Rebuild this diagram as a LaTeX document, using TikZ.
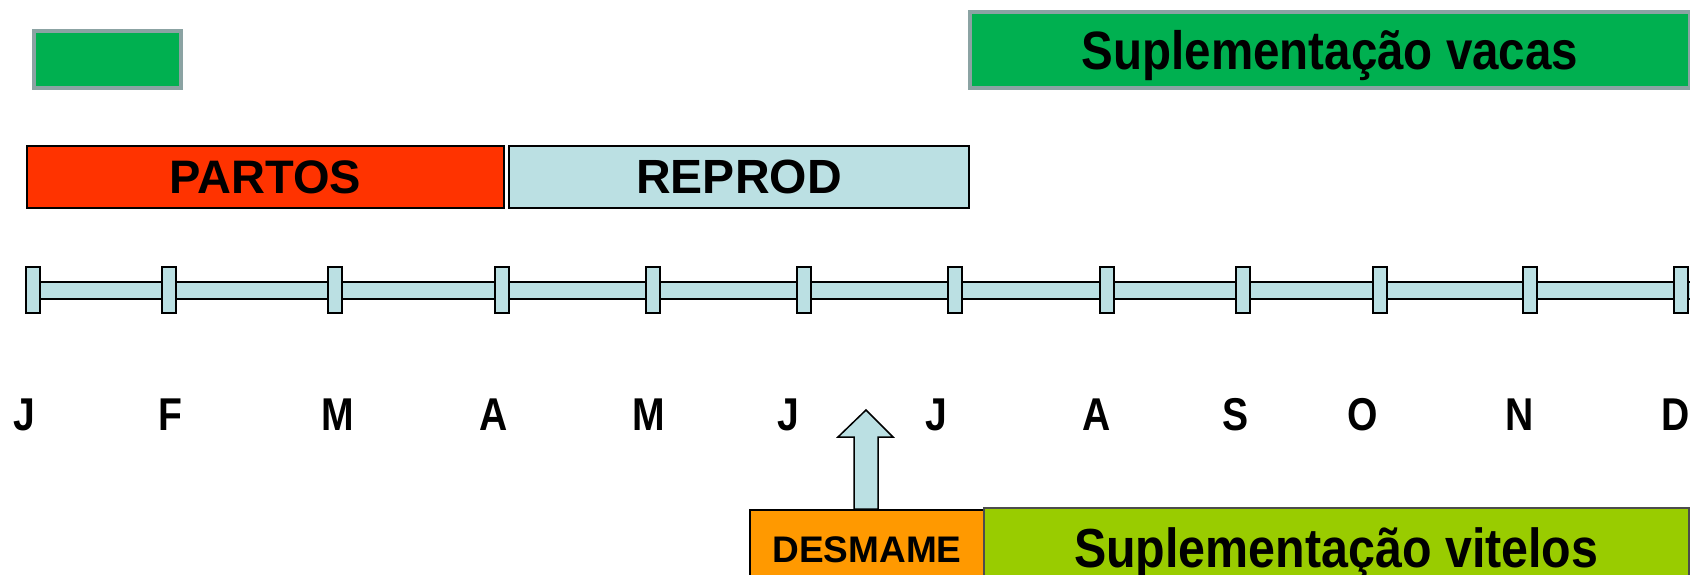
\documentclass[tikz,border=0pt]{standalone}
\usepackage{fontspec}
\setmainfont{Liberation Sans}
\newfontfamily\condfont[FakeStretch=0.88]{Liberation Sans}
\newfontfamily\monthfont[FakeStretch=0.85]{Liberation Sans}
\definecolor{vgreen}{HTML}{00B050}
\definecolor{vgray}{HTML}{8BA3A3}
\definecolor{pred}{HTML}{FF3300}
\definecolor{lblue}{HTML}{BBE0E3}
\definecolor{dorange}{HTML}{FF9900}
\definecolor{ygreen}{HTML}{99CC00}
\tikzset{
  box/.style={rectangle, inner sep=0pt, anchor=north west, text=black, font=\bfseries},
  greenbox/.style={box, fill=vgreen, draw=vgray, line width=4pt},
  blackbox/.style={box, draw=black, line width=2pt},
  tickbox/.style={rectangle, inner sep=0pt, fill=lblue, draw=black, line width=1.5pt, minimum width=14pt, minimum height=46pt},
  month/.style={inner sep=0pt, font=\monthfont\bfseries\fontsize{46}{50}\selectfont},
}
\begin{document}
\begin{tikzpicture}[x=1pt,y=-1pt]
\useasboundingbox (0,0) rectangle (1690,574);
\clip (0,0) rectangle (1690,574);
% top boxes
\node[greenbox, minimum width=147pt, minimum height=57pt] (legend) at (32,29) {};
\node[greenbox, minimum width=720pt, minimum height=76pt, text height=39pt, text depth=0pt, font=\condfont\bfseries\fontsize{54}{60}\selectfont] (vacas) at (968,10) {Suplementação vacas};
% phases
\node[blackbox, fill=pred, minimum width=477pt, minimum height=62pt, font=\bfseries\fontsize{47}{50}\selectfont] (partos) at (26,145) {PARTOS};
\node[blackbox, fill=lblue, minimum width=460pt, minimum height=62pt, font=\bfseries\fontsize{48}{50}\selectfont] (reprod) at (508,145) {REPROD};
% timeline bar
\draw[fill=lblue, draw=black, line width=1.5pt] (26,282) rectangle (1700,299);
\foreach \x/\n in {33/1,169/2,335/3,502/4,653/5,804/6,955/7,1107/8,1243/9,1380/10,1530/11,1681/12}{
  \node[tickbox] (t\n) at (\x,290) {};
}
% months
\foreach \x/\m/\n in {24/J/1,170/F/2,338/M/3,494/A/4,649/M/5,788/J/6,936/J/7,1097/A/8,1236/S/9,1363/O/10,1520/N/11,1676/D/12}{
  \node[month, anchor=base] (m\n) at (\x,430) {\m};
}
% bottom boxes
\node[blackbox, fill=dorange, minimum width=234pt, minimum height=80pt, font=\bfseries\fontsize{37}{40}\selectfont, text depth=0pt] (desmame) at (749,509) {\raisebox{0pt}{DESMAME}};
\node[box, fill=ygreen, draw=black!70, line width=1.5pt, minimum width=705pt, minimum height=80pt, text height=39pt, text depth=0pt, font=\condfont\bfseries\fontsize{55}{60}\selectfont] (vitelos) at (983,507) {Suplementação vitelos};
% up arrow
\coordinate (tip) at (866,410);
\draw[fill=lblue, draw=black, line width=1.5pt, line join=miter]
  (854,509) -- (854,437) -- (838,437) -- (tip) -- (893,437) -- (878,437) -- (878,509) -- cycle;
\end{tikzpicture}
\end{document}
